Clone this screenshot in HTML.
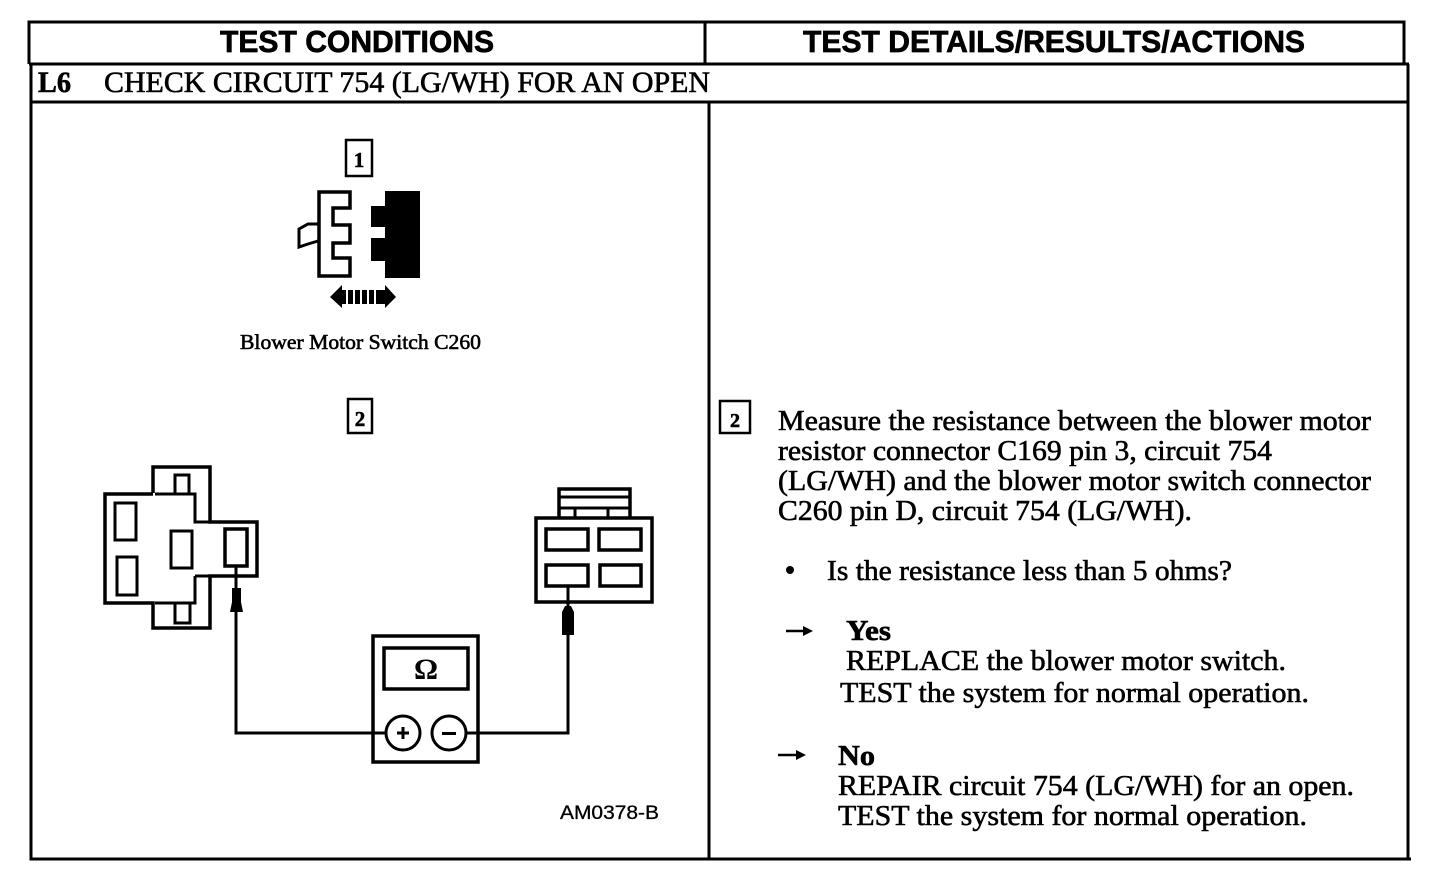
<!DOCTYPE html>
<html><head><meta charset="utf-8"><style>
html,body{margin:0;padding:0;background:#fff}
svg{display:block}
.s{font-family:"Liberation Serif",serif;fill:#000;stroke:#000;stroke-width:.6}
.h{font-family:"Liberation Sans",sans-serif;font-weight:bold;font-size:31px;fill:#000;stroke:#000;stroke-width:.7}
.b{font-size:29px}
.l{fill:none;stroke:#000;stroke-width:3.5;stroke-linejoin:miter}
.f{fill:none;stroke:#000;stroke-width:3;stroke-linejoin:miter}
.t{fill:none;stroke:#000;stroke-width:2.5}
</style></head><body>
<svg width="1440" height="872" viewBox="0 0 1440 872" xmlns="http://www.w3.org/2000/svg">
<rect width="1440" height="872" fill="#fff"/>
<!-- table -->
<path class="f" d="M29 64V22H1404V64M29 64H1409M705 22V64M31 64V859H1411M1408 64V859M31 102H1408M709 102V859"/>
<text class="h" x="220" y="52" textLength="274" lengthAdjust="spacingAndGlyphs">TEST CONDITIONS</text>
<text class="h" x="803" y="52" textLength="502" lengthAdjust="spacingAndGlyphs">TEST DETAILS/RESULTS/ACTIONS</text>
<text class="s" x="38" y="92" font-size="30" font-weight="bold" textLength="33" lengthAdjust="spacingAndGlyphs">L6</text>
<text class="s" x="104" y="92" font-size="30" textLength="606" lengthAdjust="spacingAndGlyphs">CHECK CIRCUIT 754 (LG/WH) FOR AN OPEN</text>

<!-- step 1 -->
<rect class="t" x="346" y="140" width="26" height="36"/>
<text class="s" x="359" y="167" font-size="21" font-weight="bold" text-anchor="middle">1</text>
<path class="l" d="M319 192H350V208H333V225H350V243H333V258H350V276H319Z"/>
<path class="f" d="M318 224L308 224L299 229V247L308 244L318 241"/>
<path d="M385 191H420V278H385V261H371V238H385V227H371V206H385Z"/>
<path d="M330 297L342 285V308ZM396 297L385 285V308Z"/>
<path d="M342 290H346V304H342ZM348 290H353V304H348ZM355 290H360V304H355ZM362 290H367V304H362ZM369 290H374V304H369ZM376 290H381V304H376ZM381 290H385V304H381Z"/>
<text class="s" x="240" y="349" font-size="21" textLength="241" lengthAdjust="spacingAndGlyphs">Blower Motor Switch C260</text>

<!-- step 2 left -->
<rect class="t" x="348" y="399" width="24" height="34"/>
<text class="s" x="360" y="426" font-size="21" font-weight="bold" text-anchor="middle">2</text>

<!-- left connector -->
<path class="l" d="M153 493V467H210V522H257V576H210V628H153V603H105V494H153"/>
<path class="f" d="M155 494H195V522H210M195 576V603H155M210 576H195"/>
<rect class="f" x="175" y="475" width="14" height="19"/>
<rect class="f" x="115" y="503" width="21" height="37"/>
<rect class="f" x="117" y="557" width="20" height="38"/>
<rect class="f" x="171" y="531" width="21" height="37"/>
<rect class="l" x="225" y="529" width="22" height="37"/>
<rect class="f" x="175" y="603" width="15" height="20"/>

<!-- right connector -->
<path class="l" d="M559 517V489H630V517"/>
<path class="f" d="M559 497H630M559 508H630M575 508V517M608 508V517"/>
<rect class="l" x="536" y="518" width="116" height="84"/>
<rect class="l" x="546" y="529" width="42" height="21"/>
<rect class="l" x="599" y="529" width="42" height="21"/>
<rect class="l" x="546" y="565" width="42" height="21"/>
<rect class="l" x="600" y="565" width="41" height="21"/>

<!-- wires and probes -->
<path class="f" d="M236 566V733H386M568 587V733H466"/>
<path d="M232 588H241V602L243 612H230L232 602Z"/>
<path d="M562 612L565 606H571L574 612V635H562Z"/>

<!-- meter -->
<rect class="l" x="373" y="636" width="105" height="126" fill="#fff"/>
<rect class="l" x="384" y="648" width="84" height="41"/>
<text x="426" y="679" font-family="'Liberation Serif',serif" font-weight="bold" font-size="30" text-anchor="middle" fill="#000">Ω</text>
<circle cx="403" cy="733" r="17" fill="#fff" stroke="#000" stroke-width="3"/>
<circle cx="449" cy="733" r="17" fill="#fff" stroke="#000" stroke-width="3"/>
<path d="M397 731.5H401.500V727H404.500V731.500H409V734.500H404.500V739H401.500V734.500H397ZM442 732H456V735H442Z"/>

<text x="560" y="819" font-family="'Liberation Sans',sans-serif" font-size="19" fill="#000" stroke="#000" stroke-width=".3" textLength="99" lengthAdjust="spacingAndGlyphs">AM0378-B</text>

<!-- right column -->
<rect class="t" x="720" y="401" width="30" height="32"/>
<text class="s" x="735" y="427" font-size="20" font-weight="bold" text-anchor="middle">2</text>
<g class="s b">
<text x="778" y="430" textLength="593" lengthAdjust="spacingAndGlyphs">Measure the resistance between the blower motor</text>
<text x="778" y="460" textLength="494" lengthAdjust="spacingAndGlyphs">resistor connector C169 pin 3, circuit 754</text>
<text x="778" y="490" textLength="593" lengthAdjust="spacingAndGlyphs">(LG/WH) and the blower motor switch connector</text>
<text x="778" y="520" textLength="414" lengthAdjust="spacingAndGlyphs">C260 pin D, circuit 754 (LG/WH).</text>
<text x="827" y="580" textLength="405" lengthAdjust="spacingAndGlyphs">Is the resistance less than 5 ohms?</text>
<text x="846" y="640" font-weight="bold" textLength="45" lengthAdjust="spacingAndGlyphs">Yes</text>
<text x="846" y="670" textLength="440" lengthAdjust="spacingAndGlyphs">REPLACE the blower motor switch.</text>
<text x="840" y="702" textLength="469" lengthAdjust="spacingAndGlyphs">TEST the system for normal operation.</text>
<text x="838" y="765" font-weight="bold" textLength="37" lengthAdjust="spacingAndGlyphs">No</text>
<text x="838" y="795" textLength="516" lengthAdjust="spacingAndGlyphs">REPAIR circuit 754 (LG/WH) for an open.</text>
<text x="838" y="825" textLength="469" lengthAdjust="spacingAndGlyphs">TEST the system for normal operation.</text>
</g>
<circle cx="790" cy="570" r="4" fill="#000"/>
<path d="M786 631H806" stroke="#000" stroke-width="2.500"/><path d="M803 626L813 631L803 636Z"/>
<path d="M778 755H798" stroke="#000" stroke-width="2.500"/><path d="M796 750L806 755L796 760Z"/>
</svg>
</body></html>
